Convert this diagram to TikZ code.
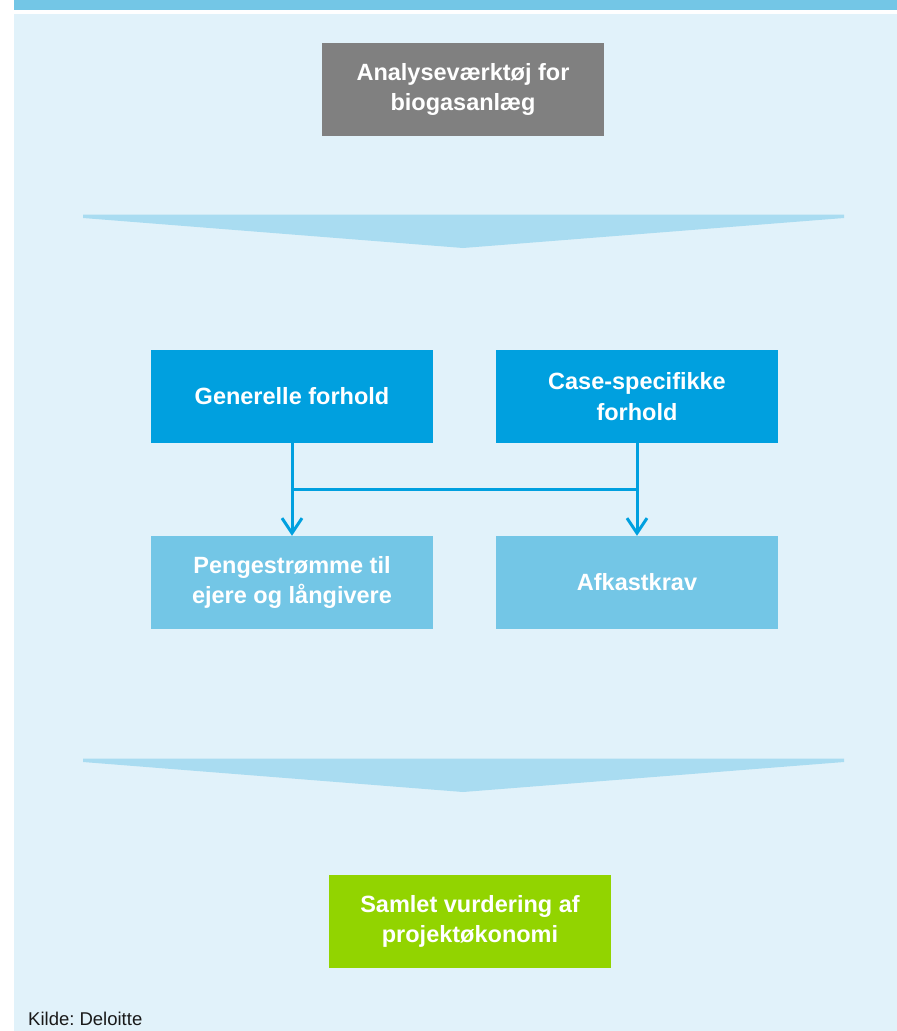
\documentclass[tikz,border=0pt]{standalone}
\usepackage{fontspec}
\setmainfont{Liberation Sans}
\usetikzlibrary{calc,arrows.meta}
\frenchspacing
\definecolor{panelbg}{HTML}{E1F2FA}
\definecolor{headerblue}{HTML}{73C6E6}
\definecolor{chevron}{HTML}{A9DCF1}
\definecolor{darkblue}{HTML}{00A0DF}
\definecolor{lightblue}{HTML}{73C6E6}
\definecolor{boxgray}{HTML}{808080}
\definecolor{boxgreen}{HTML}{92D400}
\tikzset{
  box/.style={rectangle, minimum width=282pt, minimum height=93pt, inner sep=0pt,
    align=center, text=white, font=\fontsize{23.5}{30.5}\selectfont\bfseries},
  graybox/.style={box, fill=boxgray},
  bluebox/.style={box, fill=darkblue},
  lightbox/.style={box, fill=lightblue},
  greenbox/.style={box, fill=boxgreen},
  link/.style={draw=darkblue, line width=3pt},
  arrowlink/.style={link, -{Straight Barb[length=15pt, width=20pt, line width=3pt]}},
}
\begin{document}
\begin{tikzpicture}[x=1pt, y=-1pt]
  \useasboundingbox (0,0) rectangle (897,1031);
  % page background and header strip
  \fill[white] (0,0) rectangle (897,1031);
  \fill[headerblue] (14,0) rectangle (897,9.5);
  \fill[panelbg] (14,14) rectangle (897,1031);

  % flow chevrons
  \fill[chevron] (83,214.7) -- (844,214.7) -- (844,218) -- (463,248) -- (83,218) -- cycle;
  \fill[chevron] (83,758.7) -- (844,758.7) -- (844,762) -- (463,792) -- (83,762) -- cycle;

  % boxes
  \node[graybox] (tool) at (463,89.5) {Analyseværktøj for\\biogasanlæg};
  \node[bluebox] (gen) at (292,396.5) {Generelle forhold};
  \node[bluebox] (case) at (637,396.5) {Case-specifikke\\forhold};
  \node[lightbox] (cash) at (292,582.5) {Pengestrømme til\\ejere og långivere};
  \node[lightbox] (ret) at (637,582.5) {Afkastkrav};
  \node[greenbox] (total) at (470,921.5) {Samlet vurdering af\\projektøkonomi};

  % connectors
  \coordinate (jl) at ($(gen.south)!0.5!(cash.north)$);
  \coordinate (jr) at ($(case.south)!0.5!(ret.north)$);
  \draw[arrowlink] (gen.south) -- (cash.north);
  \draw[arrowlink] (case.south) -- (ret.north);
  \draw[link] (jl) -- (jr);

  % source note
  \node[anchor=base west, inner sep=0pt, font=\fontsize{18.5}{22}\selectfont, text=black!90] (src) at (28,1025) {Kilde: Deloitte};
\end{tikzpicture}
\end{document}
